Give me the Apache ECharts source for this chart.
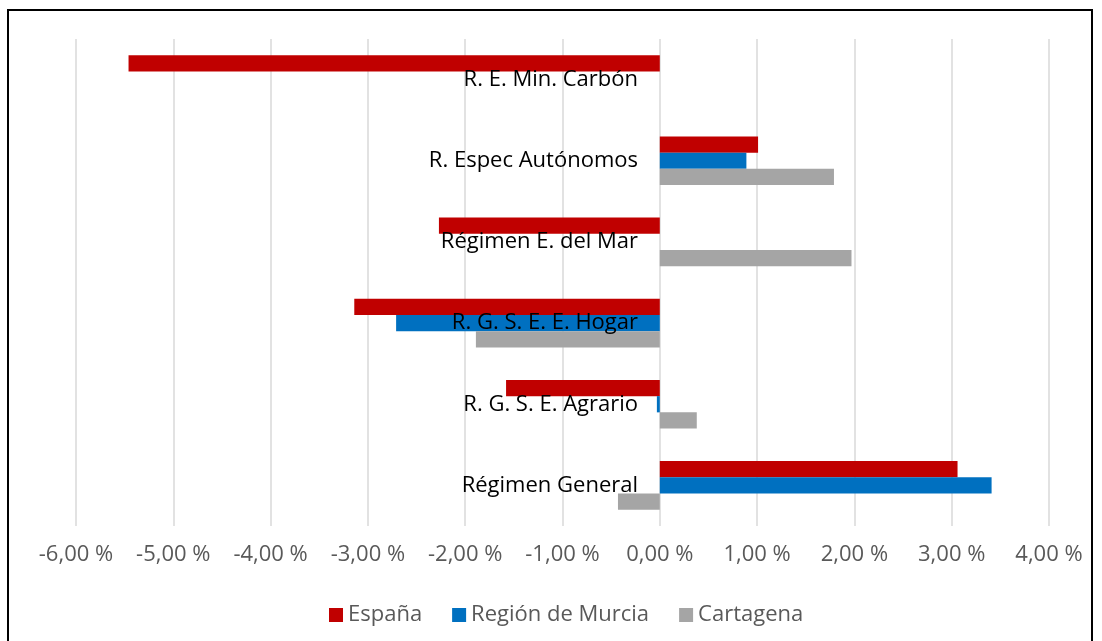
<!DOCTYPE html>
<html>
<head>
<meta charset="utf-8">
<script src="https://cdn.jsdelivr.net/npm/echarts@6/dist/echarts.min.js"></script>
<style>
  html, body { margin: 0; padding: 0; background: #fff; }
  #frame { position: absolute; left: 7px; top: 9px; width: 1086px; height: 640px; border: 2px solid #000; box-sizing: border-box; }
  #chart { position: absolute; left: 0; top: 0; width: 1102px; height: 641px; }
</style>
</head>
<body>
<div id="frame"></div>
<div id="chart"></div>
<script>
// categories listed top to bottom
const categories = ['R. E. Min. Carbón', 'R. Espec Autónomos', 'Régimen E. del Mar', 'R. G. S. E. E. Hogar', 'R. G. S. E. Agrario', 'Régimen General'];
const espana = [-5.46, 1.01, -2.27, -3.14, -1.58, 3.06];
const murcia = [0, 0.89, 0, -2.71, -0.03, 3.41];
const cartagena = [0, 1.79, 1.97, -1.89, 0.38, -0.43];
const seriesNames = ['España', 'Región de Murcia', 'Cartagena'];
const colors = ['#C00000', '#0070C0', '#A5A5A5'];

const chart = echarts.init(document.getElementById('chart'));
const font = '"Open Sans", sans-serif';

function fmt(v) { return v.toFixed(2).replace('.', ',') + ' %'; }

// labels sit just left of the zero line (x = 660), grid starts at 76
const labelMargin = 76 - 638;

chart.setOption({
  animation: false,
  textStyle: { fontFamily: font },
  grid: { left: 76, right: 53, top: 39, bottom: 115, containLabel: false, outerBoundsMode: 'none' },
  legend: {
    top: 599,
    left: 324,
    icon: 'rect',
    itemWidth: 14,
    itemHeight: 14,
    itemGap: 30,
    textStyle: { color: '#595959', fontSize: 22, fontFamily: font },
    data: seriesNames,
  },
  xAxis: {
    type: 'value',
    min: -6,
    max: 4,
    interval: 1,
    axisLine: { show: false },
    axisTick: { show: false },
    axisLabel: { color: '#595959', fontSize: 22, margin: 18, formatter: fmt },
    splitLine: { lineStyle: { color: '#D9D9D9', width: 1.5 } },
  },
  yAxis: {
    type: 'category',
    inverse: true,
    z: 10,
    data: categories,
    axisLine: { show: false, onZero: false },
    axisTick: { show: false },
    axisLabel: { color: '#000', fontSize: 22, margin: labelMargin, align: 'right' },
  },
  series: [espana, murcia, cartagena].map((d, i) => ({
    name: seriesNames[i],
    type: 'bar',
    data: d,
    barGap: '0%',
    barCategoryGap: '40%',
    itemStyle: { color: colors[i] },
  })),
});
</script>
</body>
</html>
